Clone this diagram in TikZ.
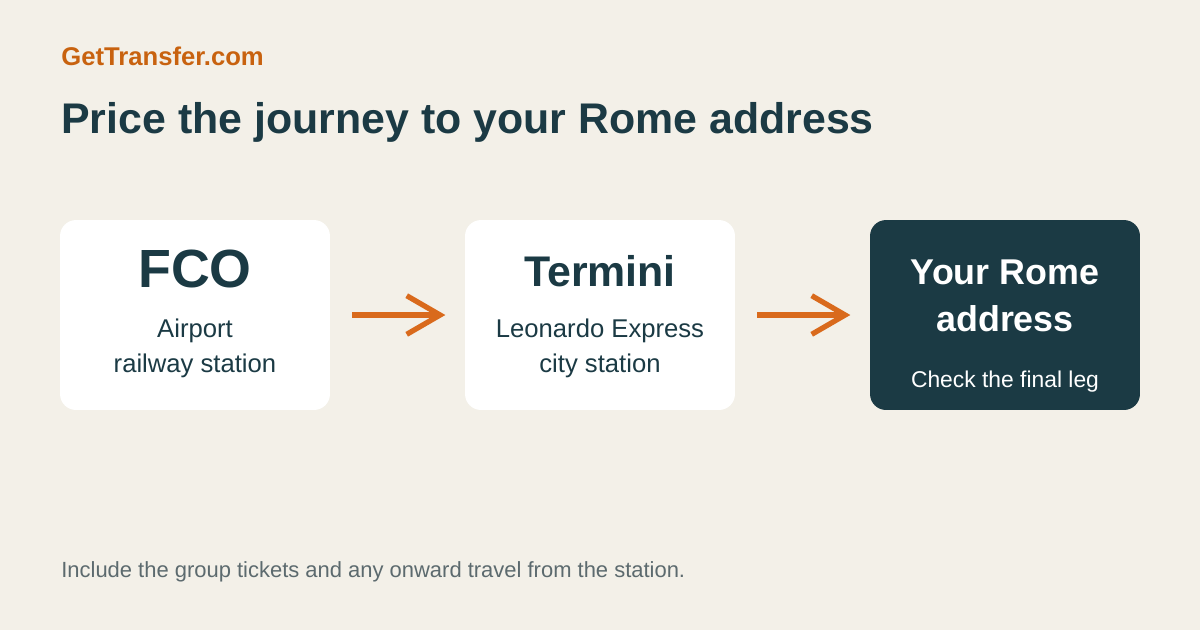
\documentclass[tikz,border=0pt]{standalone}
\usepackage{fontspec}
\setmainfont{Liberation Sans}
\usepackage{tikz}
\usetikzlibrary{arrows.meta,positioning}
\definecolor{gtPaper}{HTML}{F3F0E8}
\definecolor{gtPrimary}{HTML}{1B3A44}
\definecolor{gtAccent}{HTML}{C8620F}
\definecolor{gtArrow}{HTML}{D96A1C}
\definecolor{gtMuted}{HTML}{5C6A6E}

\begin{document}
\begin{tikzpicture}[
  x=0.02cm,y=-0.02cm,
  stop/.style={rounded corners=0.32cm,minimum width=5.4cm,minimum height=3.8cm,
               inner sep=0pt,fill=white},
  goal/.style={stop,fill=gtPrimary},
  code/.style={anchor=base,text=gtPrimary,font=\bfseries},
  note/.style={anchor=base,text=gtPrimary,font=\fontsize{14.6}{17}\selectfont},
  hop/.style={-{Straight Barb[length=19pt,width=22pt,line join=miter]},gtArrow,
              line width=3pt,shorten <=12.5pt,shorten >=11pt}
]
\useasboundingbox[fill=gtPaper] (0,0) rectangle (1200,630);

% header
\node[anchor=base west,text=gtAccent,font=\bfseries\fontsize{14.6}{17}\selectfont,inner sep=0pt]
  (brand) at (61,65) {GetTransfer.com};
\node[anchor=base west,text=gtPrimary,font=\bfseries\fontsize{24.4}{29}\selectfont,inner sep=0pt]
  (title) at (61,133) {Price the journey to your Rome address};

% the three stops
\node[stop] (fco)     at (195,315) {};
\node[stop] (termini) at (600,315) {};
\node[goal] (home)    at (1005,315) {};

\node[code,font=\bfseries\fontsize{30.6}{36}\selectfont] (fcoName) at (195,287) {FCO};
\node[note] (fcoA) at (195,337) {Airport};
\node[note] (fcoB) at (195,372) {railway station};

\node[code,font=\bfseries\fontsize{24.4}{29}\selectfont] (terName) at (600,286) {Termini};
\node[note] (terA) at (600,337) {Leonardo Express};
\node[note] (terB) at (600,372) {city station};

\node[code,text=white,font=\bfseries\fontsize{20.4}{24}\selectfont] (homeA) at (1005,284) {Your Rome};
\node[code,text=white,font=\bfseries\fontsize{20.4}{24}\selectfont] (homeB) at (1005,331) {address};
\node[note,text=white,font=\fontsize{13}{16}\selectfont] (homeC) at (1005,387) {Check the final leg};

\draw[hop] (fco) -- (termini);
\draw[hop] (termini) -- (home);

% footer
\node[anchor=base west,text=gtMuted,font=\fontsize{12.5}{15}\selectfont,inner sep=0pt]
  (foot) at (61,577) {Include the group tickets and any onward travel from the station.};
\end{tikzpicture}
\end{document}
